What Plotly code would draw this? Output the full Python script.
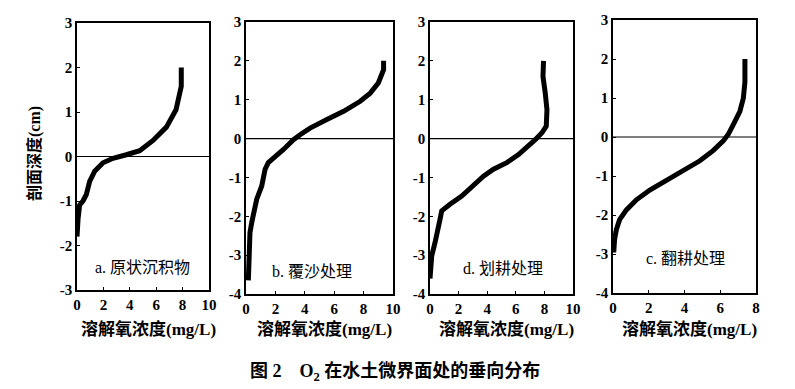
import plotly.graph_objects as go

# The page body has an 8px margin; figure coordinates below are given in page pixels and shifted by OFF.
OFF = 8
W, H = 795 - OFF, 389 - OFF

# Panel a: 原状沉积物
a_do = [7.9, 7.9, 7.5, 6.77, 5.76, 4.75, 3.74, 2.73, 1.97, 1.34, 0.96, 0.7, 0.45, 0.2, 0.08, 0.0]
a_depth = [2.0, 1.58, 1.05, 0.66, 0.36, 0.13, 0.04, -0.04, -0.14, -0.33, -0.56, -0.86, -1.0, -1.09, -1.4, -1.8]

# Panel b: 覆沙处理
b_do = [9.36, 9.36, 9.0, 8.45, 7.77, 6.64, 5.5, 4.36, 3.68, 3.23, 2.55, 1.98, 1.52, 1.3, 1.07, 0.73, 0.5, 0.39, 0.27, 0.23, 0.16, 0.16]
b_depth = [2.0, 1.77, 1.43, 1.17, 0.96, 0.70, 0.49, 0.27, 0.10, -0.03, -0.28, -0.45, -0.62, -0.79, -1.22, -1.56, -1.9, -2.16, -2.42, -2.85, -3.27, -3.65]

# Panel d: 划耕处理
d_do = [7.94, 7.9, 8.06, 8.18, 8.13, 7.83, 7.36, 6.89, 6.19, 5.37, 4.44, 3.74, 3.04, 2.22, 1.4, 0.82, 0.7, 0.58, 0.35, 0.12, 0.0, 0.0]
d_depth = [2.0, 1.6, 1.17, 0.74, 0.32, 0.15, -0.03, -0.2, -0.41, -0.62, -0.79, -0.97, -1.22, -1.48, -1.69, -1.86, -2.08, -2.33, -2.68, -3.02, -3.36, -3.6]

# Panel c: 翻耕处理
c_do = [7.38, 7.38, 7.29, 7.1, 6.73, 6.45, 6.17, 5.6, 4.86, 3.93, 2.99, 2.06, 1.31, 0.75, 0.37, 0.19, 0.09, 0.04]
c_depth = [2.0, 1.41, 0.99, 0.66, 0.32, 0.07, -0.1, -0.35, -0.61, -0.86, -1.11, -1.36, -1.61, -1.87, -2.12, -2.37, -2.62, -2.96]

panel_labels = ["a. 原状沉积物", "b. 覆沙处理", "d. 划耕处理", "c. 翻耕处理"]
x_title = "溶解氧浓度(mg/L)"
y_title = "剖面深度(cm)"
caption = "图 2    O<sub>2</sub> 在水土微界面处的垂向分布"

x_ticks_10 = [0, 2, 4, 6, 8, 10]
x_ticks_8 = [0, 2, 4, 6, 8]
y_ticks_a = [-3, -2, -1, 0, 1, 2, 3]
y_ticks_b = [-4, -3, -2, -1, 0, 1, 2, 3]

series = [
    (a_do, a_depth, x_ticks_10, y_ticks_a),
    (b_do, b_depth, x_ticks_10, y_ticks_b),
    (d_do, d_depth, x_ticks_10, y_ticks_b),
    (c_do, c_depth, x_ticks_8, y_ticks_b),
]

# pixel boxes in page coords: (left, right, top, bottom)
boxes = [(77, 209, 23, 290), (246, 393, 22, 294), (430, 573, 22, 294), (613, 756, 20, 293)]
label_pos = [(142, 267), (312, 271), (503, 268), (685, 258)]


def px(x):
    return (x - OFF) / W


def py(y):
    return 1 - (y - OFF) / H


SERIF = "Liberation Serif, Noto Sans CJK SC"
TICKFONT = dict(family=SERIF, size=15, color="black", weight="bold")

fig = go.Figure()
for i, ((xs, ys, xt, yt), (l, r, t, b)) in enumerate(zip(series, boxes)):
    n = "" if i == 0 else str(i + 1)
    fig.add_trace(go.Scatter(x=xs, y=ys, mode="lines", line=dict(color="black", width=5),
                             xaxis="x" + n, yaxis="y" + n, showlegend=False))
    fig.update_layout(**{
        "xaxis" + n: dict(domain=[px(l), px(r)], range=[xt[0], xt[-1]], tickvals=xt, ticktext=[str(v) for v in xt],
                          anchor="y" + n, showgrid=False, zeroline=False, showline=True, mirror=True,
                          linecolor="black", linewidth=1.5, ticks="inside", ticklen=3, tickcolor="black",
                          tickfont=TICKFONT, automargin=False),
        "yaxis" + n: dict(domain=[py(b), py(t)], range=[yt[0], yt[-1]], tickvals=yt,
                          ticktext=[str(v) for v in yt], anchor="x" + n, showgrid=False, zeroline=False,
                          showline=True, mirror=True, linecolor="black", linewidth=1.5, ticks="inside",
                          ticklen=3, tickcolor="black", tickfont=TICKFONT, automargin=False),
    })
    fig.add_shape(type="line", xref="x" + n + " domain", yref="y" + n, x0=0, x1=1, y0=0, y1=0,
                  line=dict(color="black", width=1.2))
    lx, ly = label_pos[i]
    fig.add_annotation(x=px(lx), y=py(ly), xref="paper", yref="paper", text=panel_labels[i], showarrow=False,
                       xanchor="center", yanchor="middle",
                       font=dict(family=SERIF, size=16, color="black"))
    fig.add_annotation(x=px((l + r) / 2 + 5), y=py(329), xref="paper", yref="paper", text=x_title,
                       showarrow=False, xanchor="center", yanchor="middle",
                       font=dict(family=SERIF, size=17, color="black", weight="bold"))

fig.add_annotation(x=px(34), y=py(154), xref="paper", yref="paper", text=y_title, textangle=-90, showarrow=False,
                   xanchor="center", yanchor="middle",
                   font=dict(family=SERIF, size=16, color="black", weight="bold"))
fig.add_annotation(x=px(395), y=py(372), xref="paper", yref="paper", text=caption, showarrow=False,
                   xanchor="center", yanchor="middle",
                   font=dict(family=SERIF, size=18, color="black", weight="bold"))

fig.update_layout(width=W, height=H, margin=dict(l=0, r=0, t=0, b=0), plot_bgcolor="white", paper_bgcolor="white")
fig.write_html("out.html")
